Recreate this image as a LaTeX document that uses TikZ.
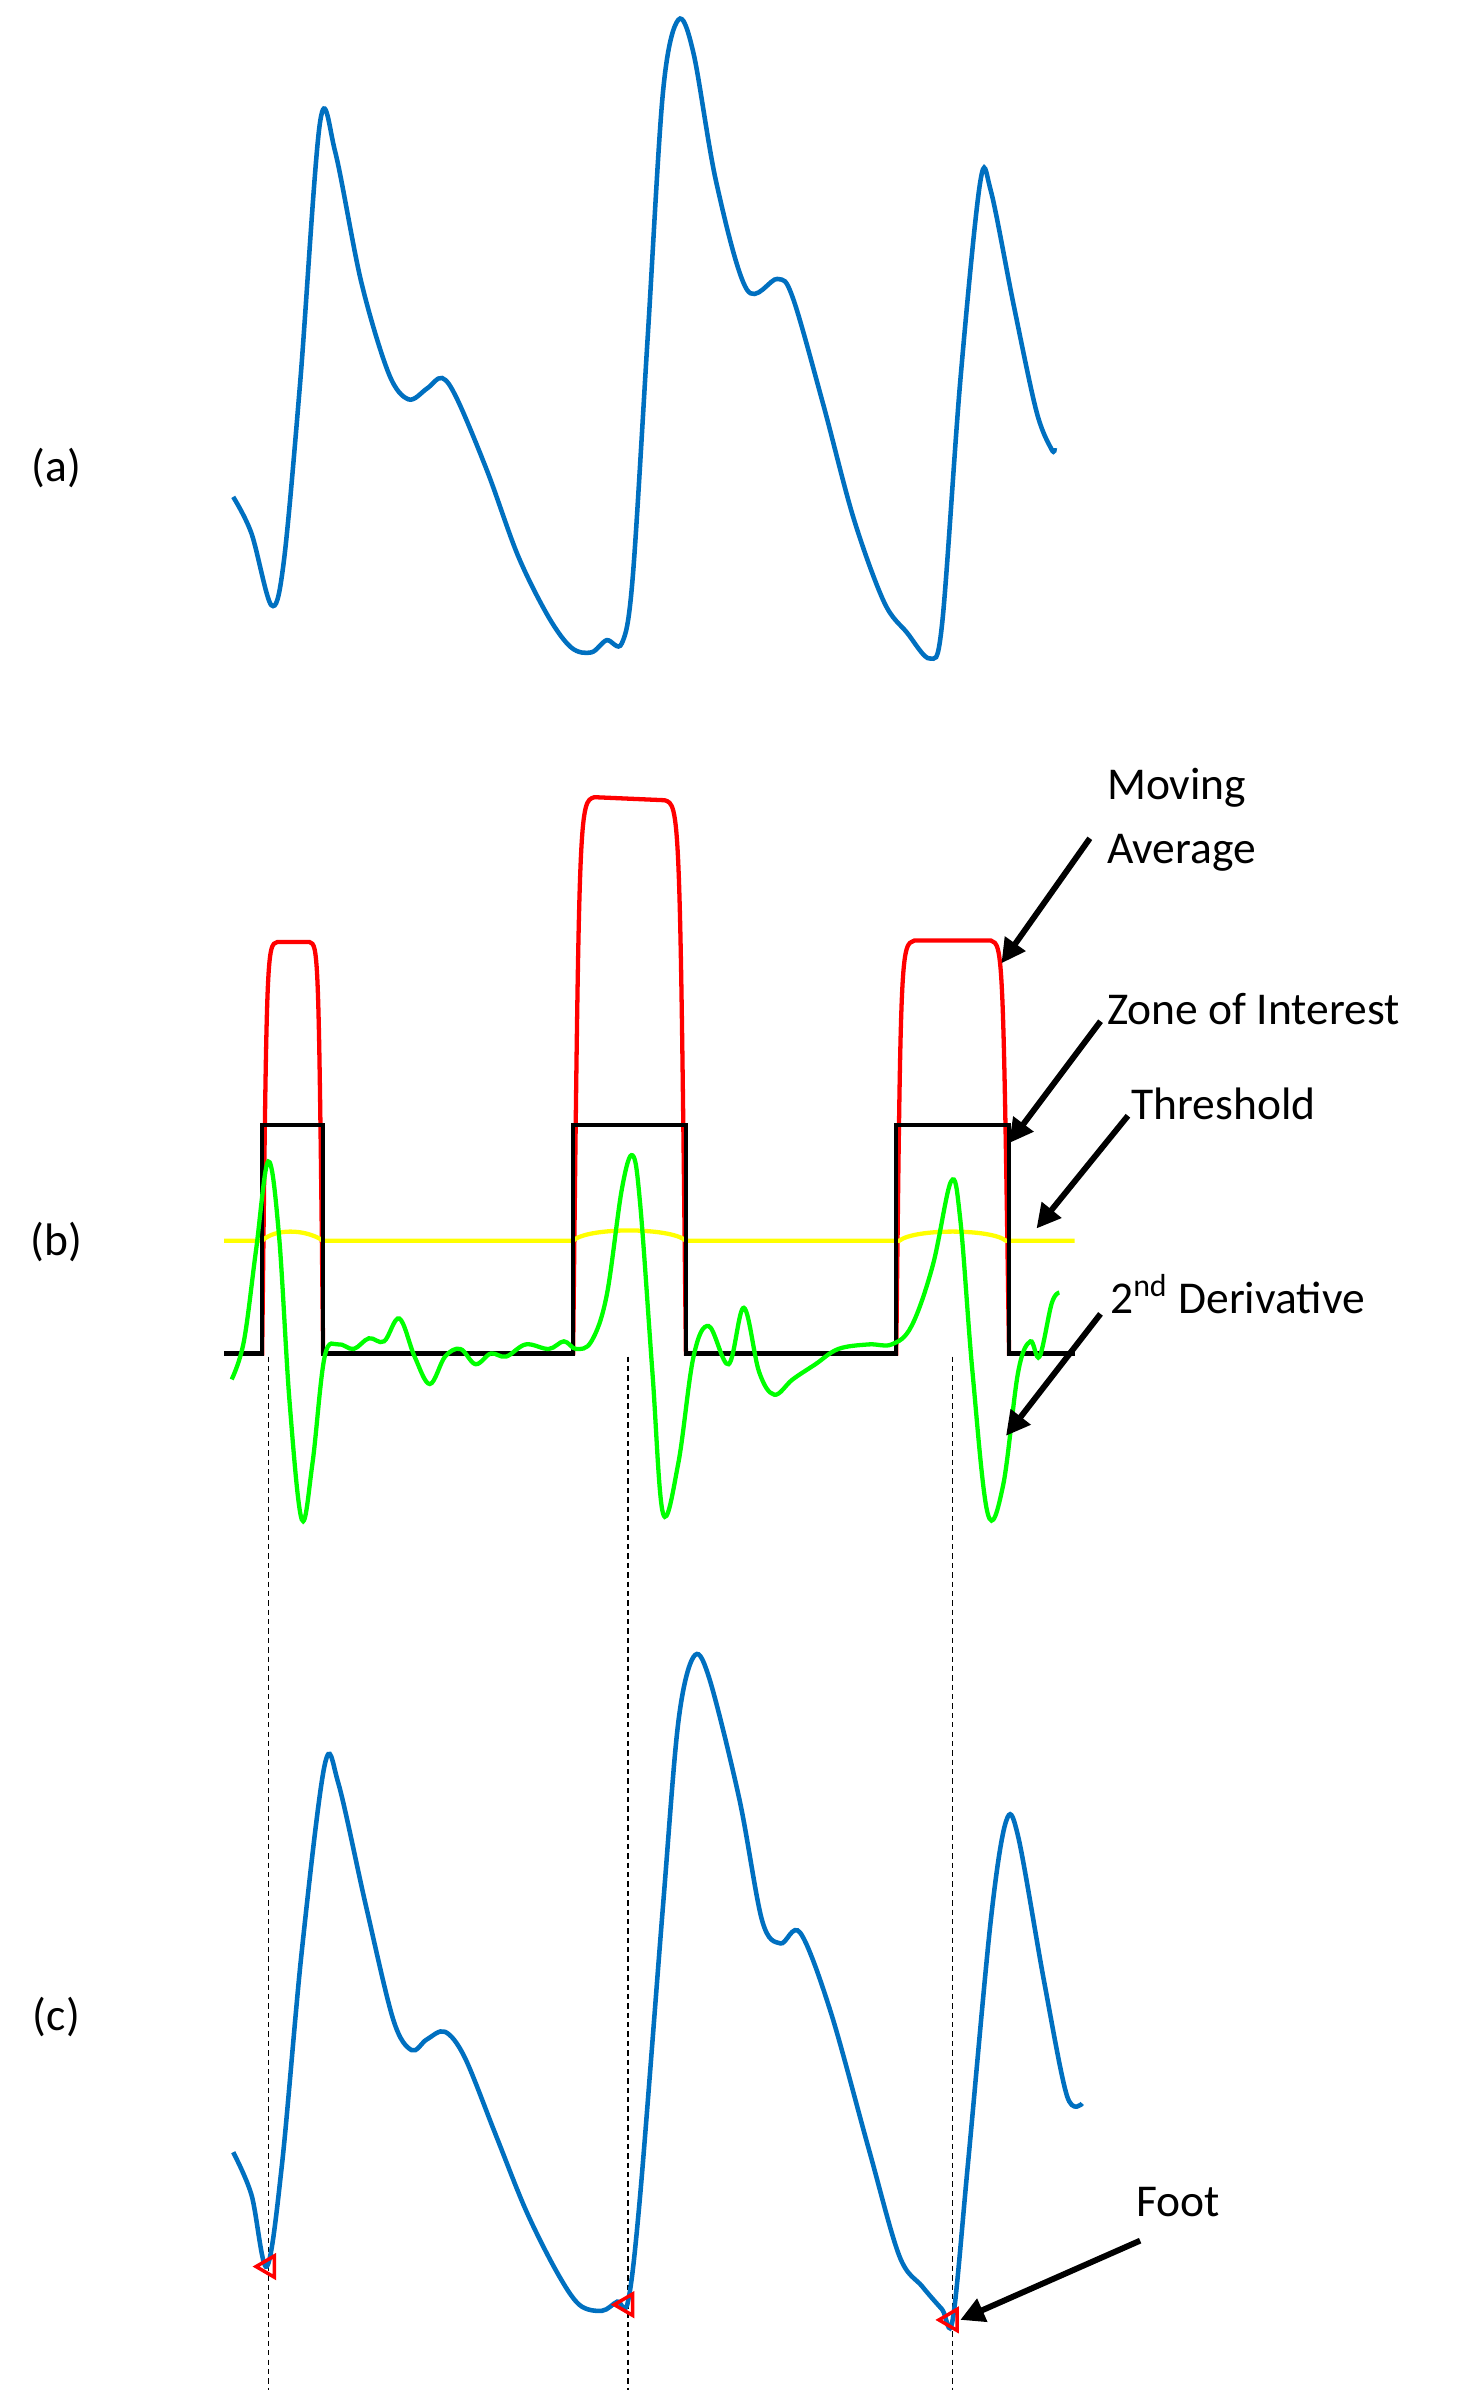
\documentclass[tikz,border=0pt]{standalone}
\usepackage{fontspec}
\setmainfont{Carlito}
\usetikzlibrary{arrows.meta}
\tikzset{
  wave/.style={line width=1.7pt, color=pulseblue, smooth, tension=0.55},
  lbl/.style={font=\fontsize{17}{20}\selectfont, inner sep=0pt},
  pointer/.style={line width=2.2pt, -{Triangle[length=9pt,width=9pt]}},
  guide/.style={dashed, line width=0.4pt, dash pattern=on 2pt off 1.5pt},
}
\definecolor{pulseblue}{RGB}{0,112,192}
\definecolor{mavred}{RGB}{255,0,0}
\definecolor{thryellow}{RGB}{255,255,0}
\definecolor{derivgreen}{RGB}{0,255,0}
\begin{document}
\begin{tikzpicture}[x=0.02cm, y=-0.02cm]
\useasboundingbox[fill=white] (0,0) rectangle (960,1568);

% Panel labels
\node[lbl] (la) at (37,307) {(a)};
\node[lbl] (lb) at (37,815) {(b)};
\node[lbl] (lc) at (37,1323) {(c)};

% (a) raw pulse
\draw[wave] plot coordinates {(153,326) (165,350) (178,397) (186,370) (197,250) (210,80) (220,100) (237,185) (255,245) (268,262) (280,255) (290,248) (300,262) (320,310) (340,365) (360,405) (375,425) (388,428) (398,420) (408,422) (415,380) (425,220) (435,60) (445,13) (455,35) (470,120) (490,190) (510,183) (520,195) (540,265) (560,340) (580,395) (595,415) (610,432) (618,410) (630,250) (643,120) (650,125) (665,200) (680,270) (690,295) (692,294)};

% (b) moving average
\draw[mavred, line width=1.6pt] (147,888) -- (172,888) .. controls (175,620) .. (182,618) -- (203,618) .. controls (209,620) .. (212,888) -- (376,888) .. controls (380,526) .. (390,523) -- (436,525) .. controls (446,528) .. (450,888) -- (588,888) .. controls (591,620) .. (600,617) -- (650,617) .. controls (658,620) .. (662,888) -- (705,888);
% (b) threshold
\draw[thryellow, line width=1.6pt] (147,814) -- (172,814) .. controls (180,806) and (200,806) .. (212,814) -- (376,814) .. controls (385,805) and (440,805) .. (450,814) -- (590,814) .. controls (600,806) and (650,806) .. (660,814) -- (705,814);
% (b) zone of interest
\draw[black, line width=1.6pt] (147,888) -- (172,888) -- (172,738) -- (212,738) -- (212,888) -- (376,888) -- (376,738) -- (450,738) -- (450,888) -- (588,888) -- (588,738) -- (662,738) -- (662,888) -- (705,888);
% (b) second derivative
\draw[derivgreen, line width=1.6pt, smooth, tension=0.6] plot coordinates {(152,905) (160,880) (168,820) (176,762) (183,810) (190,920) (198,997) (205,960) (213,890) (222,882) (232,885) (242,878) (252,880) (262,865) (272,890) (282,908) (292,890) (302,885) (312,895) (322,888) (332,890) (345,882) (360,885) (370,880) (378,885) (388,880) (398,850) (408,780) (415,758) (420,790) (428,900) (435,993) (445,960) (455,890) (465,870) (478,895) (488,858) (498,900) (508,915) (520,905) (535,895) (550,885) (570,882) (585,882) (598,870) (612,830) (624,775) (630,800) (638,900) (648,993) (658,975) (668,900) (676,880) (682,890) (690,855) (695,848)};

% (b) annotations
\node[lbl, anchor=west, align=left] (mavg) at (726,538) {Moving\\[4pt]Average};
\node[lbl, anchor=west] (zoi) at (726,662) {Zone of Interest};
\node[lbl, anchor=west] (thr) at (742,724) {Threshold};
\node[lbl, anchor=west] (der) at (728,849) {2\textsuperscript{nd} Derivative};
\coordinate (mavgtip) at (657,632);
\coordinate (zoitip) at (662,750);
\coordinate (thrtip) at (680,806);
\coordinate (dertip) at (660,942);
\draw[pointer] (715,550) -- (mavgtip);
\draw[pointer] (722,670) -- (zoitip);
\draw[pointer] (740,732) -- (thrtip);
\draw[pointer] (722,862) -- (dertip);

% guides from (b) to feet in (c)
\foreach \gx/\gy in {176/1487, 412/1512, 625/1522}
  \draw[guide] (\gx,890) -- (\gx,1568);

% (c) pulse with detected feet
\draw[wave] plot coordinates {(153,1412) (165,1440) (175,1487) (185,1420) (198,1280) (213,1158) (222,1170) (240,1250) (258,1325) (270,1345) (280,1338) (292,1333) (305,1350) (325,1400) (345,1450) (365,1490) (380,1512) (395,1516) (405,1510) (412,1510) (420,1440) (435,1250) (445,1130) (455,1087) (465,1100) (485,1180) (500,1260) (512,1275) (525,1268) (545,1320) (570,1410) (590,1480) (605,1500) (618,1515) (625,1522) (635,1420) (650,1260) (660,1195) (668,1205) (685,1300) (700,1375) (710,1380)};
\foreach \fx/\fy in {176/1487, 411/1512, 624/1522}
  \draw[mavred, line width=1.3pt] (\fx-8,\fy) -- (\fx+4,\fy-7) -- (\fx+4,\fy+7) -- cycle;

\node[lbl, anchor=west] (foot) at (745,1445) {Foot};
\coordinate (foottip) at (630,1522);
\draw[pointer] (748,1470) -- (foottip);
\end{tikzpicture}
\end{document}
